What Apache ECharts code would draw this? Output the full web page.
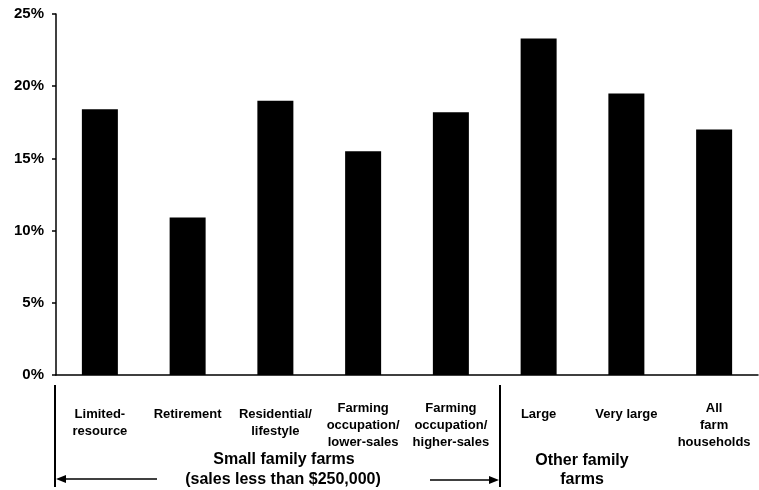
<!DOCTYPE html>
<html>
<head>
<meta charset="utf-8">
<script src="https://cdn.jsdelivr.net/npm/echarts@6/dist/echarts.min.js"></script>
<style>
  html, body { margin: 0; padding: 0; background: #fff; }
  #chart { width: 759px; height: 490px; }
</style>
</head>
<body>
<div id="chart"></div>
<script>
// categories (x axis labels)
var categories = [
  'Limited-\nresource',
  'Retirement',
  'Residential/\nlifestyle',
  'Farming\noccupation/\nlower-sales',
  'Farming\noccupation/\nhigher-sales',
  'Large',
  'Very large',
  'All\nfarm\nhouseholds'
];
// share of farm households, percent
var shares = [18.4, 10.9, 19.0, 15.5, 18.2, 23.3, 19.5, 17.0];
// y tick labels run 0..25 by 5
var yMax = 25;
var yStep = 5;

var font = 'Liberation Sans, Arial, sans-serif';
var chart = echarts.init(document.getElementById('chart'));

chart.setOption({
  animation: false,
  grid: { left: 56, right: 1, top: 14, bottom: 115 },
  xAxis: {
    type: 'category',
    data: categories,
    axisLine: { lineStyle: { color: '#000', width: 1.5 } },
    axisTick: { show: false },
    axisLabel: {
      interval: 0,
      margin: 25,
      verticalAlign: 'top',
      color: '#000',
      fontFamily: font,
      fontWeight: 'bold',
      fontSize: 13,
      lineHeight: 17,
      formatter: function (v) {
        // the two-line labels sit a bit lower than the farming ones
        if (v.indexOf('Farming') === 0 || v.indexOf('All') === 0) return v;
        return '{p|}\n' + v;
      },
      rich: { p: { height: 6, lineHeight: 6 } }
    }
  },
  yAxis: {
    type: 'value',
    min: 0,
    max: yMax,
    interval: yStep,
    splitLine: { show: false },
    axisLine: { show: true, lineStyle: { color: '#000', width: 1.5 } },
    axisTick: { show: true, length: 4, lineStyle: { color: '#000', width: 1.5 } },
    axisLabel: {
      margin: 12,
      color: '#000',
      fontFamily: font,
      fontWeight: 'bold',
      fontSize: 15,
      formatter: '{value}%'
    }
  },
  series: [{
    type: 'bar',
    data: shares,
    barWidth: 36,
    itemStyle: { color: '#000' }
  }],
  graphic: [
    // group brackets under the axis
    { type: 'line', shape: { x1: 55, y1: 385, x2: 55, y2: 487 }, style: { stroke: '#000', lineWidth: 2 } },
    { type: 'line', shape: { x1: 500, y1: 385, x2: 500, y2: 487 }, style: { stroke: '#000', lineWidth: 2 } },
    { type: 'line', shape: { x1: 64, y1: 479, x2: 157, y2: 479 }, style: { stroke: '#000', lineWidth: 1.5 } },
    { type: 'polygon', shape: { points: [[56, 479], [66, 475], [66, 483]] }, style: { fill: '#000' } },
    { type: 'line', shape: { x1: 430, y1: 480, x2: 491, y2: 480 }, style: { stroke: '#000', lineWidth: 1.5 } },
    { type: 'polygon', shape: { points: [[499, 480], [489, 476], [489, 484]] }, style: { fill: '#000' } },
    {
      type: 'text', x: 284, y: 460,
      style: { text: 'Small family farms', fill: '#000', font: 'bold 16px ' + font, textAlign: 'center', textVerticalAlign: 'middle' }
    },
    {
      type: 'text', x: 283, y: 480,
      style: { text: '(sales less than $250,000)', fill: '#000', font: 'bold 16px ' + font, textAlign: 'center', textVerticalAlign: 'middle' }
    },
    {
      type: 'text', x: 582, y: 461,
      style: { text: 'Other family', fill: '#000', font: 'bold 16px ' + font, textAlign: 'center', textVerticalAlign: 'middle' }
    },
    {
      type: 'text', x: 582, y: 480,
      style: { text: 'farms', fill: '#000', font: 'bold 16px ' + font, textAlign: 'center', textVerticalAlign: 'middle' }
    }
  ]
});
</script>
</body>
</html>
